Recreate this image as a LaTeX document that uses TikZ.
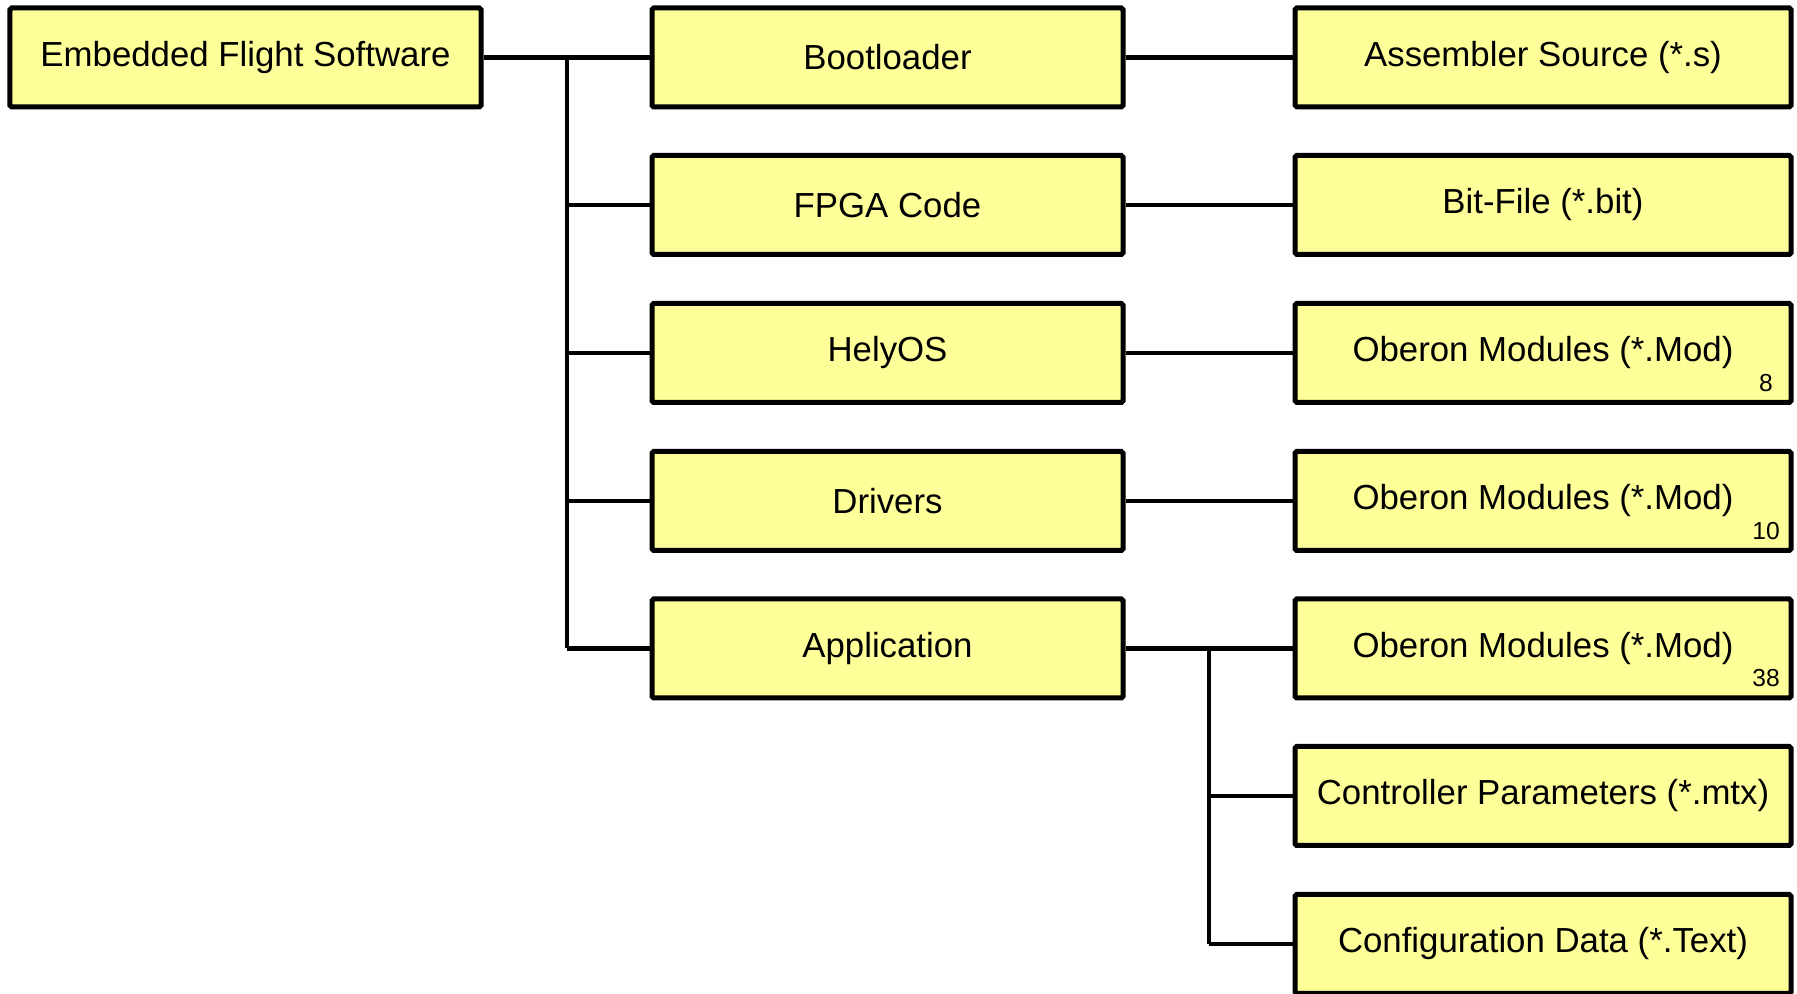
\documentclass[tikz,border=0pt]{standalone}
\usepackage{fontspec}
\setmainfont{Liberation Sans}
\usepackage{xcolor}
\definecolor{boxyellow}{HTML}{FFFF99}

\begin{document}
\begin{tikzpicture}[
  box/.style={draw=black, fill=boxyellow, line width=0.05cm, rounded corners=0.5pt,
    minimum width=4.71cm, minimum height=0.99cm, inner sep=0pt,
    font=\fontsize{9.9}{12}\selectfont},
  wide/.style={box, minimum width=4.96cm},
  link/.style={line width=0.045cm},
  count/.style={font=\fontsize{7}{8}\selectfont, inner sep=0pt, anchor=south east}
]
\useasboundingbox (0,0) rectangle (17.97,9.94);

% top level
\node[box] (root) at (2.455,9.365) {Embedded Flight Software};

% components
\node[box] (boot)    at (8.875,9.365) {Bootloader};
\node[box] (fpga)    at (8.875,7.89)  {FPGA Code};
\node[box] (helyos)  at (8.875,6.41)  {HelyOS};
\node[box] (drivers) at (8.875,4.93)  {Drivers};
\node[box] (app)     at (8.875,3.455) {Application};

% source files
\node[wide] (asm)    at (15.43,9.365) {Assembler Source (*.s)};
\node[wide] (bit)    at (15.43,7.89)  {Bit-File (*.bit)};
\node[wide] (obhely) at (15.43,6.41)  {Oberon Modules (*.Mod)};
\node[wide] (obdrv)  at (15.43,4.93)  {Oberon Modules (*.Mod)};
\node[wide] (obapp)  at (15.43,3.455) {Oberon Modules (*.Mod)};
\node[wide] (ctrl)   at (15.43,1.98)  {Controller Parameters (*.mtx)};
\node[wide] (conf)   at (15.43,0.50)  {Configuration Data (*.Text)};

% module counts
\node[count] (n8)  at ([shift={(-0.2,0.13)}]obhely.south east) {8};
\node[count] (n10) at ([shift={(-0.13,0.13)}]obdrv.south east) {10};
\node[count] (n38) at ([shift={(-0.13,0.13)}]obapp.south east) {38};

% bus to components
\coordinate (bus) at (5.67,9.365);
\draw[link] (root) -- (boot);
\draw[link] (bus) -- (bus |- app.west);
\foreach \n in {fpga,helyos,drivers,app}
  \draw[link] (bus |- \n.west) -- (\n.west);

% components to files
\draw[link] (boot) -- (asm);
\draw[link] (fpga) -- (bit);
\draw[link] (helyos) -- (obhely);
\draw[link] (drivers) -- (obdrv);
\draw[link] (app) -- (obapp);

% application bus
\coordinate (appbus) at (12.09,3.455);
\draw[link] (appbus) -- (appbus |- conf.west);
\foreach \n in {ctrl,conf}
  \draw[link] (appbus |- \n.west) -- (\n.west);
\end{tikzpicture}
\end{document}
